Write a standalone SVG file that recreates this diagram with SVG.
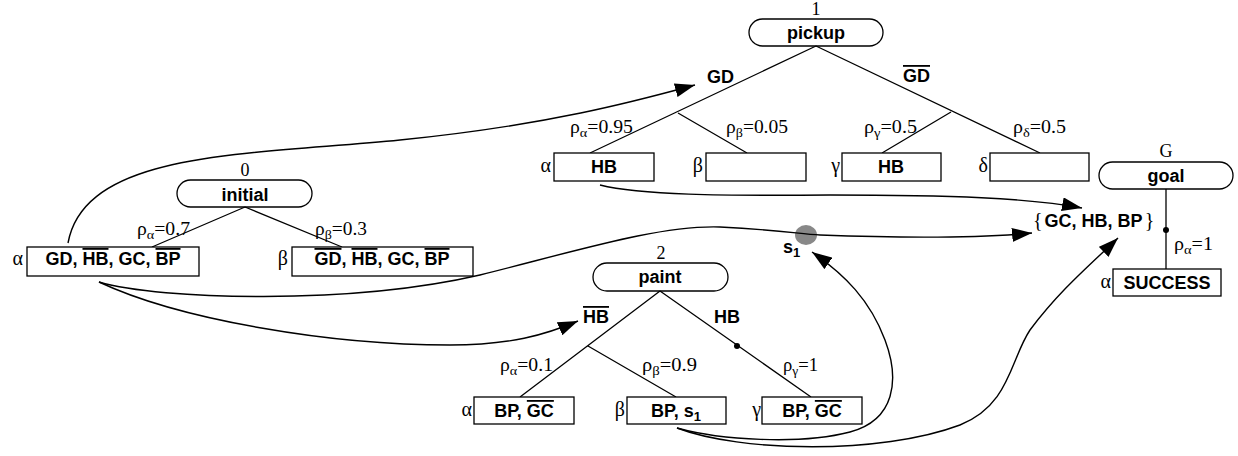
<svg xmlns="http://www.w3.org/2000/svg" width="1238" height="456" viewBox="0 0 1238 456">
<style>
.bg{fill:#fff}
.pill,.box{fill:#fff;stroke:#000;stroke-width:1.3}
.ln{fill:none;stroke:#000;stroke-width:1.3}
.cn{fill:none;stroke:#000;stroke-width:1.4}
.b{font-family:"Liberation Sans",Arial,sans-serif;font-weight:bold;font-size:18px;fill:#000}
.s{font-family:"Liberation Serif","Times New Roman",serif;font-size:18px;fill:#000}
.g{font-family:"Liberation Serif","Times New Roman",serif;font-size:20px;fill:#000}
.br{font-family:"Liberation Serif","Times New Roman",serif;font-weight:normal;font-size:20px}
.ov{text-decoration:overline}
.mid{text-anchor:middle}
.end{text-anchor:end}
.dot{fill:#000}
</style>
<defs>
<marker id="arr" markerUnits="userSpaceOnUse" markerWidth="22" markerHeight="14" refX="20" refY="7" orient="auto">
<path d="M0,0 L20,7 L0,14 z" fill="#000"/>
</marker>
</defs>
<rect class="bg" x="0" y="0" width="1238" height="456"/>

<g id="pickup">
<text class="s mid" x="816" y="15">1</text>
<rect class="pill" x="749" y="19" width="134" height="27" rx="13.5"/>
<text class="b mid" x="816" y="39">pickup</text>
<path class="ln" d="M816,46 L590,153 M678,113 L747,153 M816,46 L1040,153 M951,112 L882,153"/>
<text class="b" x="707" y="83">GD</text>
<text class="b" x="903" y="82"><tspan class="ov">GD</tspan></text>
<text class="s" x="570" y="133" textLength="63" lengthAdjust="spacingAndGlyphs">ρ<tspan font-size="13" dy="4">α</tspan><tspan dy="-4">=0.95</tspan></text>
<text class="s" x="726" y="133" textLength="62" lengthAdjust="spacingAndGlyphs">ρ<tspan font-size="13" dy="4">β</tspan><tspan dy="-4">=0.05</tspan></text>
<text class="s" x="864" y="133" textLength="53" lengthAdjust="spacingAndGlyphs">ρ<tspan font-size="13" dy="4">γ</tspan><tspan dy="-4">=0.5</tspan></text>
<text class="s" x="1013" y="133" textLength="53" lengthAdjust="spacingAndGlyphs">ρ<tspan font-size="13" dy="4">δ</tspan><tspan dy="-4">=0.5</tspan></text>
<rect class="box" x="554" y="153" width="100" height="28"/>
<text class="b mid" x="604" y="173">HB</text>
<text class="g end" x="551" y="172">α</text>
<rect class="box" x="706" y="153" width="100" height="28"/>
<text class="g end" x="703" y="172">β</text>
<rect class="box" x="842" y="153" width="99" height="28"/>
<text class="b mid" x="891" y="173">HB</text>
<text class="g end" x="840" y="172">γ</text>
<rect class="box" x="990" y="153" width="99" height="28"/>
<text class="g end" x="988" y="172">δ</text>
</g>

<g id="initial">
<text class="s mid" x="245" y="176">0</text>
<rect class="pill" x="177" y="180" width="135" height="27" rx="13.5"/>
<text class="b mid" x="245" y="201">initial</text>
<path class="ln" d="M245,207 L152,247 M245,207 L342,247"/>
<text class="s" x="137" y="235" textLength="53" lengthAdjust="spacingAndGlyphs">ρ<tspan font-size="13" dy="4">α</tspan><tspan dy="-4">=0.7</tspan></text>
<text class="s" x="315" y="235" textLength="52" lengthAdjust="spacingAndGlyphs">ρ<tspan font-size="13" dy="4">β</tspan><tspan dy="-4">=0.3</tspan></text>
<rect class="box" x="27" y="247" width="172" height="29"/>
<text class="b mid" x="113" y="265">GD, <tspan class="ov">HB</tspan>, GC, <tspan class="ov">BP</tspan></text>
<text class="g end" x="23" y="265">α</text>
<rect class="box" x="292" y="247" width="181" height="29"/>
<text class="b mid" x="382" y="265"><tspan class="ov">GD</tspan>, <tspan class="ov">HB</tspan>, GC, <tspan class="ov">BP</tspan></text>
<text class="g end" x="288" y="265">β</text>
</g>

<g id="paint">
<text class="s mid" x="661" y="259">2</text>
<rect class="pill" x="593" y="263" width="135" height="28" rx="14"/>
<text class="b mid" x="660" y="283">paint</text>
<path class="ln" d="M660,291 L520,397 M588,346 L676,397 M660,291 L811,397"/>
<circle class="dot" cx="737" cy="346" r="3"/>
<text class="b" x="583" y="323"><tspan class="ov">HB</tspan></text>
<text class="b" x="714" y="323">HB</text>
<text class="s" x="500" y="371" textLength="53" lengthAdjust="spacingAndGlyphs">ρ<tspan font-size="13" dy="4">α</tspan><tspan dy="-4">=0.1</tspan></text>
<text class="s" x="642" y="371" textLength="55" lengthAdjust="spacingAndGlyphs">ρ<tspan font-size="13" dy="4">β</tspan><tspan dy="-4">=0.9</tspan></text>
<text class="s" x="783" y="371" textLength="35" lengthAdjust="spacingAndGlyphs">ρ<tspan font-size="13" dy="4">γ</tspan><tspan dy="-4">=1</tspan></text>
<rect class="box" x="474" y="397" width="100" height="27"/>
<text class="b mid" x="524" y="417">BP, <tspan class="ov">GC</tspan></text>
<text class="g end" x="472" y="416">α</text>
<rect class="box" x="627" y="397" width="99" height="27"/>
<text class="b mid" x="676" y="417">BP, s<tspan font-size="13" dy="4">1</tspan></text>
<text class="g end" x="625" y="416">β</text>
<rect class="box" x="762" y="397" width="100" height="27"/>
<text class="b mid" x="812" y="417">BP, <tspan class="ov">GC</tspan></text>
<text class="g end" x="761" y="416">γ</text>
</g>

<g id="goal">
<text class="s mid" x="1166" y="157">G</text>
<rect class="pill" x="1099" y="162" width="134" height="27" rx="13.5"/>
<text class="b mid" x="1166" y="182">goal</text>
<path class="ln" d="M1166,189 L1166,269"/>
<circle class="dot" cx="1166" cy="230" r="3"/>
<text class="s" x="1174" y="250" textLength="39" lengthAdjust="spacingAndGlyphs">ρ<tspan font-size="13" dy="4">α</tspan><tspan dy="-4">=1</tspan></text>
<rect class="box" x="1113" y="269" width="108" height="27"/>
<text class="b mid" x="1167" y="289">SUCCESS</text>
<text class="g end" x="1111" y="288">α</text>
</g>

<g id="goalset">
<text class="b" x="1033" y="227"><tspan class="br">{</tspan><tspan dx="2">GC, HB, BP</tspan><tspan class="br" dx="2">}</tspan></text>
</g>

<g id="s1">
<ellipse cx="806" cy="235" rx="11" ry="10" fill="#888"/>
<text class="b" x="783" y="253">s<tspan font-size="13" dy="4">1</tspan></text>
</g>

<g id="connectors">
<path class="cn" marker-end="url(#arr)" d="M68,243 C85,150 250,155 400,140 C550,125 640,100 695,85"/>
<path class="cn" marker-end="url(#arr)" d="M600,185 C640,195 720,196 830,195 C950,195 1030,198 1082,208"/>
<path class="cn" marker-end="url(#arr)" d="M99,282 C160,300 350,305 480,275 C580,250 660,225 720,227 C780,230 800,234 820,235 C900,238 980,238 1032,233"/>
<path class="cn" marker-end="url(#arr)" d="M99,282 C180,320 330,345 450,345 C510,345 545,335 578,321"/>
<path class="cn" marker-end="url(#arr)" d="M677,428 C720,440 800,445 850,432 C895,420 900,380 885,340 C870,300 845,275 812,252"/>
<path class="cn" marker-end="url(#arr)" d="M677,428 C740,452 880,455 960,425 C1010,405 1010,360 1030,330 C1060,290 1090,265 1118,238"/>
</g>
</svg>
